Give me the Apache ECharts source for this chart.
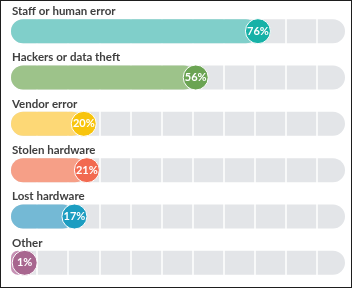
<!DOCTYPE html>
<html>
<head>
<meta charset="utf-8">
<script src="https://cdn.jsdelivr.net/npm/echarts@6/dist/echarts.min.js"></script>
<style>
  html, body { margin: 0; padding: 0; background: #fff; }
  #main { width: 352px; height: 288px; box-sizing: border-box; border: 1px solid #1e1e1e; }
</style>
</head>
<body>
<div id="main"></div>
<script>
// data
var categories = ['Staff or human error', 'Hackers or data theft', 'Vendor error', 'Stolen hardware', 'Lost hardware', 'Other'];
var values = [76, 56, 20, 21, 17, 1];
var barColors = ['#80cfca', '#9dc38a', '#fdd876', '#f69f87', '#74b9d5', '#c690b4'];
var dotColors = ['#17b1a7', '#6ba453', '#f8c40c', '#f26a50', '#1c9dc1', '#a8668f'];
var gridTicks = [5, 15, 25, 35, 45, 55, 65, 75, 85, 95];

// layout: axis runs a bit past 100 so the marker fits at both ends
var pad = 3.4;
var axisMax = 107.4;

var myChart = echarts.init(document.getElementById('main'), null, { renderer: 'canvas' });

var trackData = categories.map(function () { return axisMax; });
var barData = values.map(function (v, i) {
    return { value: v + pad, itemStyle: { color: barColors[i] } };
});
var dotData = values.map(function (v, i) {
    return { value: [v + pad, categories[i]], raw: v, itemStyle: { color: dotColors[i] } };
});

var option = {
    animation: false,
    grid: { left: 10, right: 6, top: 7, bottom: 1 },
    xAxis: {
        type: 'value', min: 0, max: axisMax,
        show: false
    },
    yAxis: {
        type: 'category', data: categories, inverse: true,
        show: false
    },
    series: [
        {
            // gray track
            type: 'bar',
            data: trackData,
            barWidth: 24,
            barGap: '-100%',
            silent: true,
            z: 1,
            itemStyle: { color: '#e3e5e8', borderRadius: 12 }
        },
        {
            // white dividers, only visible on the track
            type: 'line',
            data: [],
            silent: true,
            z: 2,
            markLine: {
                silent: true,
                z: 2,
                symbol: 'none',
                label: { show: false },
                lineStyle: { color: '#ffffff', width: 1.5, type: 'solid' },
                data: gridTicks.map(function (t) { return { xAxis: t + pad }; })
            }
        },
        {
            type: 'bar',
            data: barData,
            barWidth: 24,
            barGap: '-100%',
            z: 3,
            itemStyle: { borderRadius: 12 },
            label: {
                show: true,
                position: [1, -8],
                verticalAlign: 'middle',
                align: 'left',
                formatter: function (p) { return p.name; },
                fontFamily: 'Lato',
                fontWeight: 'bold',
                fontSize: 11.5,
                color: '#3f3f3f'
            }
        },
        {
            type: 'scatter',
            data: dotData,
            symbolSize: 25,
            z: 4,
            itemStyle: { borderColor: '#ffffff', borderWidth: 1, opacity: 1 },
            label: {
                show: true,
                position: 'inside',
                formatter: function (p) { return p.data.raw + '%'; },
                fontFamily: 'Lato',
                fontWeight: 'bold',
                fontSize: 11,
                color: '#ffffff'
            }
        }
    ]
};

myChart.setOption(option);
</script>
</body>
</html>
